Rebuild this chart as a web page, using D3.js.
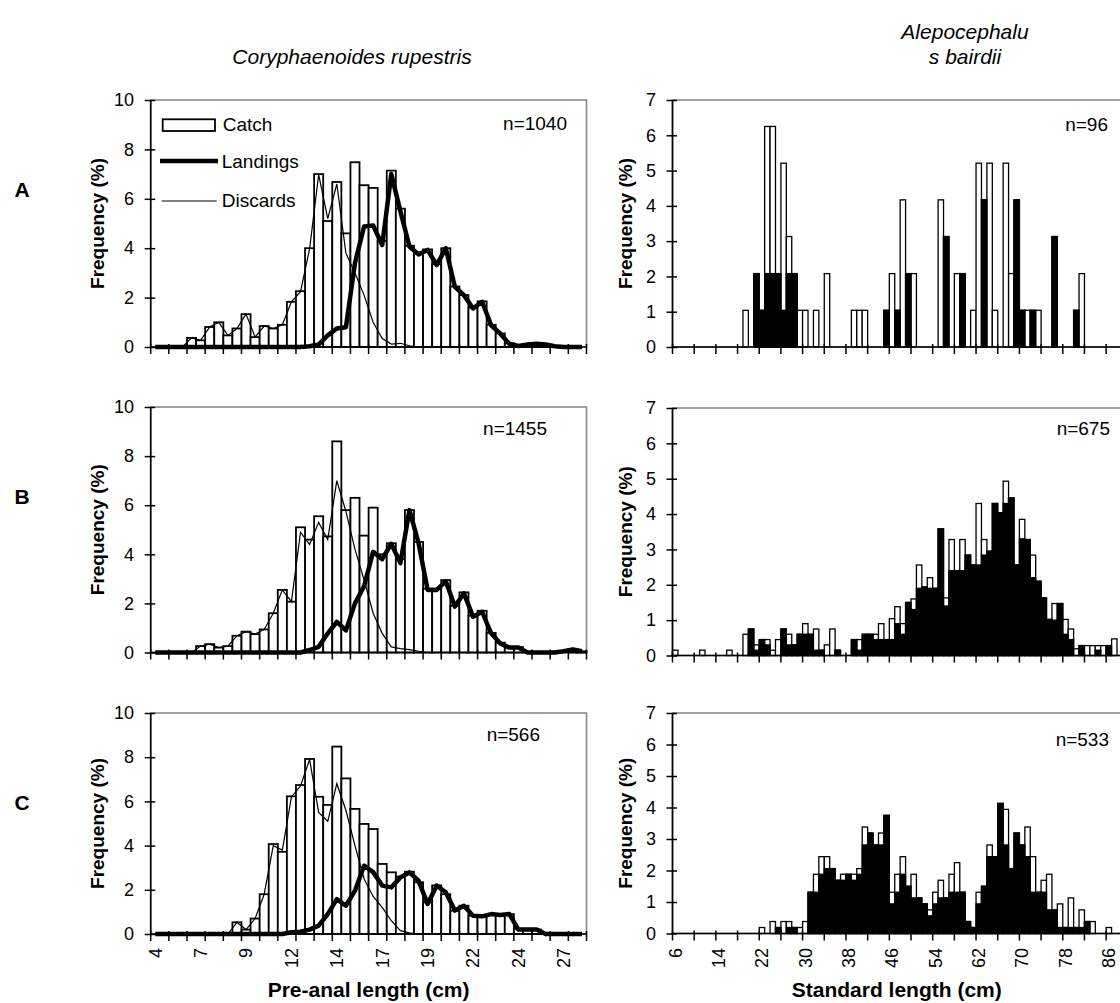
<!DOCTYPE html>
<html><head><meta charset="utf-8">
<script src="https://cdn.jsdelivr.net/npm/d3@7"></script>
<style>
body{margin:0;background:#fff}
svg{display:block}
text{font-family:"Liberation Sans",Arial,Helvetica,sans-serif;fill:#000}
</style>
</head><body><script>
// ---------- DATA ----------
// Left: Coryphaenoides rupestris, pre-anal length classes (0.5 cm)
const lenCats = [4,4.5,5,5.5,6,6.5,7,7.5,8,8.5,9,9.5,10,10.5,11,11.5,12,12.5,13,13.5,14,14.5,15,15.5,16,16.5,17,17.5,18,18.5,19,19.5,20,20.5,21,21.5,22,22.5,23,23.5,24,24.5,25,25.5,26,26.5,27,27.5];
const lenTickCats = [4,6.5,9,11.5,14,16.5,19,21.5,24,26.5];
const lenTickLabels = ["4","7","9","12","14","17","19","22","24","27"];
const freqTicksLeft = [0,2,4,6,8,10];

const catchA = [0,0,0,0,0.37,0.27,0.81,1.0,0.47,0.75, 1.33,0.4,0.85,0.75,0.9,1.83,2.26,4.0,7.0,5.1, 6.68,4.6,7.48,6.55,6.44,4.3,7.14,5.6,4.1,3.8, 3.95,3.35,4.0,2.45,2.1,1.6,1.85,0.9,0.55,0.15, 0.05,0.1,0.13,0.1,0.03,0,0,0];
const landingsA = [0,0,0,0,0,0,0,0,0,0, 0,0,0,0,0,0,0,0.03,0.1,0.47, 0.75,0.8,3.4,4.88,4.92,4.13,7.0,5.5,4.07,3.75, 3.93,3.32,4.0,2.44,2.1,1.56,1.83,0.88,0.54,0.13, 0.04,0.1,0.13,0.1,0.03,0,0,0];
const discardsA = [0,0,0,0,0.37,0.27,0.81,1.0,0.47,0.75, 1.33,0.4,0.85,0.75,0.9,1.83,2.24,3.97,6.98,5.2, 6.6,3.8,3.0,2.1,1.0,0.34,0.12,0.15,0.05,0, 0,0,0,0,0,0,0,0,0,0, 0,0,0,0,0,0,0,0];

const catchB = [0,0,0,0,0,0.26,0.34,0.2,0.26,0.68, 0.85,0.75,0.94,1.6,2.55,2.07,5.1,4.6,5.55,4.73, 8.6,5.8,6.3,4.76,5.9,4.0,4.45,3.8,5.8,4.5, 2.6,2.6,2.95,1.9,2.45,1.5,1.7,0.8,0.4,0.22, 0.22,0,0,0,0,0,0.12,0.05];
const landingsB = [0,0,0,0,0,0,0,0,0,0, 0,0,0,0,0,0,0,0.1,0.23,0.78, 1.25,0.9,2.0,2.7,4.1,3.8,4.43,3.64,5.8,4.46, 2.55,2.55,2.9,1.87,2.41,1.46,1.66,0.78,0.37,0.2, 0.2,0,0,0,0,0.05,0.12,0.05];
const discardsB = [0,0,0,0,0,0.26,0.34,0.2,0.26,0.68, 0.85,0.75,0.94,1.6,2.55,2.07,4.9,4.4,5.3,4.6, 7.0,5.75,4.2,2.96,1.6,0.78,0.23,0.16,0.12,0.05, 0,0,0,0,0,0,0,0,0,0, 0,0,0,0,0,0,0,0];

const catchC = [0,0,0,0,0,0,0,0,0,0.53, 0.2,0.7,1.8,4.07,3.72,6.23,6.74,7.92,6.21,5.84, 8.48,7.04,5.66,4.98,4.75,3.17,2.79,2.6,2.82,2.34, 1.43,2.2,1.8,1.05,1.28,0.83,0.8,0.9,0.86,0.9, 0.23,0.2,0.2,0.05,0,0,0,0];
const landingsC = [0,0,0,0,0,0,0,0,0,0, 0,0,0,0,0,0.08,0.1,0.2,0.38,0.9, 1.58,1.28,1.96,3.09,2.8,2.19,2.11,2.56,2.79,2.41, 1.36,2.19,1.89,1.06,1.28,0.83,0.8,0.9,0.86,0.9, 0.2,0.2,0.2,0,0,0,0,0];
const discardsC = [0,0,0,0,0,0,0,0,0,0.53, 0.2,0.7,1.8,4.0,3.8,6.2,6.7,7.9,5.5,5.1, 6.8,5.6,4.0,2.5,1.7,1.2,0.6,0.15,0.05,0, 0,0,0,0,0,0,0,0,0,0, 0,0,0,0,0,0,0,0];

// Right: Alepocephalus bairdii, standard length classes (1 cm)
const stdCats = [6,7,8,9,10,11,12,13,14,15,16,17,18,19,20,21,22,23,24,25,26,27,28,29,30,31,32,33,34,35,36,37,38,39,40,41,42,43,44,45,46,47,48,49,50,51,52,53,54,55,56,57,58,59,60,61,62,63,64,65,66,67,68,69,70,71,72,73,74,75,76,77,78,79,80,81,82,83,84,85,86,87,88];
const stdTickCats = [6,14,22,30,38,46,54,62,70,78,86];
const stdTickLabels = ["6","14","22","30","38","46","54","62","70","78","86"];
const freqTicksRight = [0,1,2,3,4,5,6,7];

const rCatchA = [0,0,0,0,0,0,0,0,0,0, 0,0,0,1.04,0,2.08,1.04,6.25,6.25,2.08, 5.21,3.13,2.08,1.04,1.04,0,1.04,0,2.08,0, 0,0,0,1.04,1.04,1.04,0,0,0,1.04, 2.08,1.04,4.17,2.08,2.08,0,0,0,0,4.17, 3.13,0,2.08,2.08,0,1.04,5.21,4.17,5.21,1.04, 0,5.21,2.08,4.17,1.04,1.04,1.04,1.04,0,0, 3.13,0,0,0,1.04,2.08,0,0,0,0, 0,0,0];
const rLandA = [0,0,0,0,0,0,0,0,0,0, 0,0,0,0,0,2.08,1.04,2.08,2.08,2.08, 1.04,2.08,2.08,0,0,0,0,0,0,0, 0,0,0,0,0,0,0,0,0,1.04, 0,1.04,0,2.08,0,0,0,0,0,0, 3.13,0,0,2.08,0,0,0,4.17,0,0, 0,0,0,4.17,1.04,0,1.04,0,0,0, 3.13,0,0,0,1.04,0,0,0,0,0, 0,0,0];

const rCatchB = [0.15,0,0,0,0,0.15,0,0,0,0, 0.15,0,0,0.6,0.75,0.3,0.45,0.45,0.15,0.45, 0.75,0.6,0.3,0.6,0.9,0.6,0.75,0.15,0.3,0.75, 0.15,0,0,0.45,0.45,0.6,0.6,0.6,0.9,0.45, 1.04,1.38,0.9,1.5,1.6,2.56,1.94,2.2,1.9,3.58, 1.63,3.28,2.4,3.28,2.84,2.56,4.3,3.28,2.95,4.3, 4.04,4.93,4.46,2.56,3.85,3.28,2.84,2.1,1.63,1.02, 1.47,1.47,1.02,0.75,0.19,0.28,0.28,0.28,0.28,0.28, 0.28,0.47,0];
const rLandB = [0,0,0,0,0,0,0,0,0,0, 0,0,0,0,0.75,0.15,0.45,0.3,0,0, 0.75,0.3,0.3,0.6,0.6,0.6,0.15,0.15,0,0, 0.15,0,0,0.45,0.15,0.6,0.6,0.45,0.45,0.45, 0.45,0.9,0.6,1.5,1.3,1.9,1.94,1.9,1.9,3.58, 1.4,2.4,2.4,2.4,2.84,2.56,2.56,2.84,2.95,4.3, 4.04,4.3,4.46,2.56,3.3,3.28,2.2,2.1,1.63,1.02, 1.0,1.47,0.6,0.45,0,0.28,0,0,0.15,0, 0.28,0,0];

const rCatchC = [0,0,0,0,0,0,0,0,0,0, 0,0,0,0,0,0,0.19,0,0.38,0.19, 0.38,0.38,0.19,0.19,0.38,1.31,1.88,2.44,2.44,2.06, 1.69,1.88,1.88,1.88,2.06,3.38,3.19,2.81,3.19,3.75, 1.31,1.88,2.44,1.5,1.88,1.13,0.94,0.75,1.31,1.69, 1.13,1.88,2.25,1.31,0.38,0.19,1.31,1.5,2.81,2.44, 4.13,3.94,2.06,3.19,2.81,3.38,2.44,1.31,1.69,1.88, 0.75,0.94,0.19,1.13,0.19,0.75,0.38,0.38,0,0, 0.19,0,0];
const rLandC = [0,0,0,0,0,0,0,0,0,0, 0,0,0,0,0,0,0,0,0,0.19, 0,0.19,0.19,0,0,1.31,1.31,1.88,2.06,2.06, 1.69,1.69,1.88,1.69,1.88,2.81,3.19,2.81,2.81,3.75, 0.94,1.31,1.88,1.5,1.13,1.13,0.94,0.56,0.94,1.13, 1.13,1.31,1.31,1.31,0.38,0.19,0.94,1.5,2.44,2.44, 4.13,2.81,2.06,3.19,2.81,2.44,1.31,1.31,1.31,0.75, 0.75,0.19,0.19,0.19,0.19,0.19,0.38,0,0,0, 0,0,0];

// ---------- LAYOUT ----------
const W = 1120, H = 1003;
const LX0 = 150.7, LX1 = 586.5;
const RX0 = 672.5, RX1 = 1122.4;
const FONT_TICK = 18;
const FONT_NOTE = 19;

const svg = d3.select('body').append('svg').attr('width', W).attr('height', H);
svg.append('rect').attr('width', W).attr('height', H).attr('fill', '#fff');

const leftPanels = [
  {c: catchA, l: landingsA, d: discardsA, top: 100, bottom: 347, n: 'n=1040', nx: 567, ny: 130, xl: false, legend: true},
  {c: catchB, l: landingsB, d: discardsB, top: 407, bottom: 652.5, n: 'n=1455', nx: 547, ny: 435, xl: false, legend: false},
  {c: catchC, l: landingsC, d: discardsC, top: 713, bottom: 934, n: 'n=566', nx: 540, ny: 741, xl: true, legend: false}
];
const rightPanels = [
  {c: rCatchA, l: rLandA, top: 100, bottom: 347, n: 'n=96', nx: 1108, ny: 131, xl: false},
  {c: rCatchB, l: rLandB, top: 408, bottom: 655.5, n: 'n=675', nx: 1110, ny: 435, xl: false},
  {c: rCatchC, l: rLandC, top: 713, bottom: 933.5, n: 'n=533', nx: 1109, ny: 746, xl: true}
];

function yAxis(g, y, x0, ticks, pad) {
  const ax = d3.axisLeft(y).tickValues(ticks).tickSizeInner(6).tickSizeOuter(0).tickPadding(pad).tickFormat(d3.format('d'));
  const a = g.append('g').attr('transform', `translate(${x0},0)`).call(ax);
  a.select('.domain').remove();
  a.selectAll('.tick line').attr('x1', 4.5).attr('stroke', '#000').attr('stroke-width', 1.5);
  a.selectAll('.tick text').style('font-size', FONT_TICK + 'px').style('font-family', '"Liberation Sans",Arial,sans-serif').attr('fill', '#000');
}

function frame(g, x0, x1, top, bottom) {
  g.append('rect').attr('x', x0).attr('y', top).attr('width', x1 - x0).attr('height', bottom - top)
    .attr('fill', 'none').attr('stroke', '#8a8a8a').attr('stroke-width', 1.6);
}
function axesLines(g, x0, x1, top, bottom) {
  g.append('line').attr('x1', x0).attr('x2', x0).attr('y1', top).attr('y2', bottom + 0.75).attr('stroke', '#000').attr('stroke-width', 1.6);
  g.append('line').attr('x1', x0).attr('x2', x1).attr('y1', bottom).attr('y2', bottom).attr('stroke', '#000').attr('stroke-width', 1.6);
}

function xTicks(g, x, cats, every, bottom) {
  const bw = x.bandwidth();
  const pos = [];
  for (let i = 0; i <= cats.length; i += every) pos.push(i < cats.length ? x(cats[i]) : x(cats[cats.length - 1]) + bw);
  g.selectAll(null).data(pos).join('line')
    .attr('x1', d => d).attr('x2', d => d).attr('y1', bottom - 3).attr('y2', bottom + 7)
    .attr('stroke', '#000').attr('stroke-width', 1.5);
}
function xLabels(g, x, tickCats, tickLabels) {
  const bw = x.bandwidth();
  g.selectAll(null).data(tickCats).join('text')
    .attr('transform', d => `translate(${x(d) + bw / 2},948) rotate(-90)`)
    .attr('text-anchor', 'end').attr('dy', '0.35em')
    .style('font-size', FONT_TICK + 'px')
    .text((d, i) => tickLabels[i]);
}

// ---- Left panels ----
leftPanels.forEach(p => {
  const g = svg.append('g');
  const x = d3.scaleBand().domain(lenCats).range([LX0, LX1]).padding(0);
  const y = d3.scaleLinear().domain([0, 10]).range([p.bottom, p.top]);
  frame(g, LX0, LX1, p.top, p.bottom);
  const bars = lenCats.map((c, i) => ({c, v: p.c[i]})).filter(d => d.v > 0);
  g.selectAll(null).data(bars).join('rect')
    .attr('x', d => x(d.c)).attr('width', x.bandwidth())
    .attr('y', d => y(d.v)).attr('height', d => y(0) - y(d.v))
    .attr('fill', '#fff').attr('stroke', '#000').attr('stroke-width', 1.8);
  const line = d3.line().x((d, i) => x(lenCats[i]) + x.bandwidth() / 2).y(d => y(d));
  g.append('path').attr('d', line(p.d)).attr('fill', 'none').attr('stroke', '#000').attr('stroke-width', 1.2);
  g.append('path').attr('d', line(p.l)).attr('fill', 'none').attr('stroke', '#000').attr('stroke-width', 4.5).attr('stroke-linejoin', 'round');
  axesLines(g, LX0, LX1, p.top, p.bottom);
  yAxis(g, y, LX0, freqTicksLeft, 10.7);
  xTicks(g, x, lenCats, 2, p.bottom);
  if (p.xl) xLabels(g, x, lenTickCats, lenTickLabels);
  g.append('text').attr('x', p.nx).attr('y', p.ny).attr('text-anchor', 'end').style('font-size', FONT_NOTE + 'px').text(p.n);
  g.append('text').attr('transform', `translate(97,${(p.top + p.bottom) / 2}) rotate(-90)`)
    .attr('text-anchor', 'middle').attr('dy', '0.35em').style('font-size', '19px').style('font-weight', 'bold').text('Frequency (%)');
  if (p.legend) {
    const lg = g.append('g');
    lg.append('rect').attr('x', 162.7).attr('y', 119.3).attr('width', 52.3).attr('height', 11.7).attr('fill', '#fff').attr('stroke', '#000').attr('stroke-width', 1.8);
    lg.append('text').attr('x', 222.7).attr('y', 124.5).attr('dy', '0.35em').style('font-size', FONT_NOTE + 'px').text('Catch');
    lg.append('line').attr('x1', 160).attr('x2', 218).attr('y1', 161).attr('y2', 161).attr('stroke', '#000').attr('stroke-width', 4.5);
    lg.append('text').attr('x', 221.7).attr('y', 161.5).attr('dy', '0.35em').style('font-size', FONT_NOTE + 'px').text('Landings');
    lg.append('line').attr('x1', 161.7).attr('x2', 216.7).attr('y1', 201).attr('y2', 201).attr('stroke', '#000').attr('stroke-width', 1.2);
    lg.append('text').attr('x', 221.7).attr('y', 200.5).attr('dy', '0.35em').style('font-size', FONT_NOTE + 'px').text('Discards');
  }
});

// ---- Right panels ----
rightPanels.forEach(p => {
  const g = svg.append('g');
  const x = d3.scaleBand().domain(stdCats).range([RX0, RX1]).padding(0);
  const y = d3.scaleLinear().domain([0, 7]).range([p.bottom, p.top]);
  frame(g, RX0, RX1, p.top, p.bottom);
  const cBars = stdCats.map((c, i) => ({c, v: p.c[i]})).filter(d => d.v > 0);
  const lBars = stdCats.map((c, i) => ({c, v: p.l[i]})).filter(d => d.v > 0);
  g.selectAll(null).data(cBars).join('rect')
    .attr('x', d => x(d.c)).attr('width', x.bandwidth())
    .attr('y', d => y(d.v)).attr('height', d => y(0) - y(d.v))
    .attr('fill', '#fff').attr('stroke', '#000').attr('stroke-width', 1.3);
  g.selectAll(null).data(lBars).join('rect')
    .attr('x', d => x(d.c)).attr('width', x.bandwidth())
    .attr('y', d => y(d.v)).attr('height', d => y(0) - y(d.v))
    .attr('fill', '#000').attr('stroke', '#000').attr('stroke-width', 1.3);
  axesLines(g, RX0, RX1, p.top, p.bottom);
  yAxis(g, y, RX0, freqTicksRight, 10.5);
  xTicks(g, x, stdCats, 4, p.bottom);
  if (p.xl) xLabels(g, x, stdTickCats, stdTickLabels);
  g.append('text').attr('x', p.nx).attr('y', p.ny).attr('text-anchor', 'end').style('font-size', FONT_NOTE + 'px').text(p.n);
  g.append('text').attr('transform', `translate(625,${(p.top + p.bottom) / 2}) rotate(-90)`)
    .attr('text-anchor', 'middle').attr('dy', '0.35em').style('font-size', '19px').style('font-weight', 'bold').text('Frequency (%)');
});

// ---- Titles & labels ----
svg.append('text').attr('x', 352).attr('y', 64).attr('text-anchor', 'middle').style('font-size', '21px').style('font-style', 'italic').text('Coryphaenoides rupestris');
svg.append('text').attr('x', 965).attr('y', 39).attr('text-anchor', 'middle').style('font-size', '21px').style('font-style', 'italic').text('Alepocephalu');
svg.append('text').attr('x', 965).attr('y', 64).attr('text-anchor', 'middle').style('font-size', '21px').style('font-style', 'italic').text('s bairdii');
[['A', 190], ['B', 497], ['C', 803]].forEach(([t, yy]) => {
  svg.append('text').attr('x', 22).attr('y', yy).attr('dy', '0.35em').attr('text-anchor', 'middle').style('font-size', '21px').style('font-weight', 'bold').text(t);
});
svg.append('text').attr('x', (LX0 + LX1) / 2).attr('y', 997).attr('text-anchor', 'middle').style('font-size', '21px').style('font-weight', 'bold').text('Pre-anal length (cm)');
svg.append('text').attr('x', (RX0 + 1121) / 2).attr('y', 997).attr('text-anchor', 'middle').style('font-size', '21px').style('font-weight', 'bold').text('Standard length (cm)');
</script></body></html>
